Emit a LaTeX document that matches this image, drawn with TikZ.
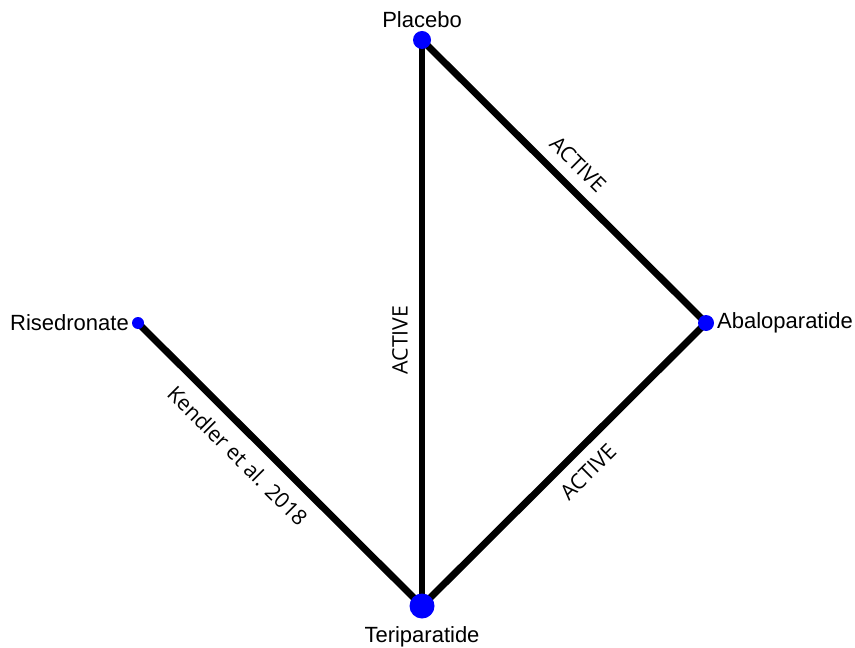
\documentclass[tikz,border=0pt]{standalone}
\usepackage{fontspec}
\setmainfont{Liberation Sans}
\newfontfamily\edgefont{Open Sans}
\usetikzlibrary{positioning,backgrounds}

\begin{document}
\begin{tikzpicture}[
x=0.75pt, y=-0.75pt,
treat/.style={
    circle,
    fill={rgb,255:red,0;green,0;blue,255},
    inner sep=0pt
},
lbl/.style={font=\fontsize{16.5}{19}\selectfont, inner sep=2pt},
trial/.style={line width=5.2pt, black},
every label/.style={lbl},
elbl/.style={font=\edgefont\fontsize{16}{18}\selectfont, sloped, inner sep=0pt}
]
\useasboundingbox (0,0) rectangle (855,648);

\node[treat, minimum size=13.5pt, label={[label distance=0pt]above:Placebo}] (placebo) at (422,40) {};
\node[treat, minimum size=9pt, label={[label distance=0pt]left:Risedronate}] (rised) at (138,323) {};
\node[treat, minimum size=12pt, label={[label distance=0pt]right:Abaloparatide}] (abalo) at (706,323) {};
\node[treat, minimum size=18.75pt, label={[label distance=3.5pt]below:Teriparatide}] (teri) at (422,606) {};

\begin{scope}[on background layer]
% Teriparatide -- Placebo
\draw[trial] (teri.center) -- (placebo.center)
    node[elbl, pos=0.47, above=8pt] (e1) {ACTIVE};

% Placebo -- Abaloparatide
\draw[trial] (placebo.center) -- (abalo.center)
    node[elbl, pos=0.495, above=8pt] (e2) {ACTIVE};

% Teriparatide -- Abaloparatide
\draw[trial] (teri.center) -- (abalo.center)
    node[elbl, pos=0.53, below=8pt] (e3) {ACTIVE};

% Risedronate -- Teriparatide
\draw[trial] (rised.center) -- (teri.center)
    node[elbl, pos=0.41, below=9pt] (e4) {Kendler et al. 2018};
\end{scope}

\end{tikzpicture}
\end{document}
